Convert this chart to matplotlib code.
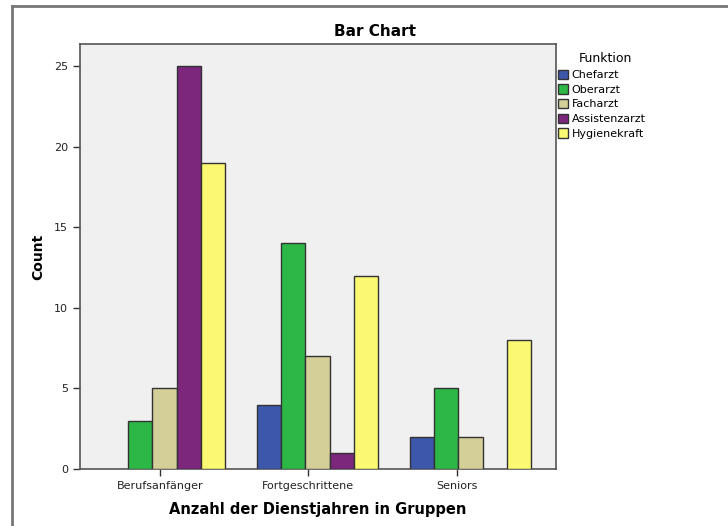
import numpy as np
import matplotlib
matplotlib.use("Agg")
import matplotlib.pyplot as plt
from matplotlib.patches import Patch
from matplotlib.lines import Line2D

# data
groups = ["Berufsanfänger", "Fortgeschrittene", "Seniors"]
funktion = ["Chefarzt", "Oberarzt", "Facharzt", "Assistenzarzt", "Hygienekraft"]
chefarzt = [0, 4, 2]
oberarzt = [3, 14, 5]
facharzt = [5, 7, 2]
assistenzarzt = [25, 1, 0]
hygienekraft = [19, 12, 8]
colors = ["#3d57ab", "#2db747", "#d4cf98", "#7c267c", "#fbf872"]

series = [chefarzt, oberarzt, facharzt, assistenzarzt, hygienekraft]

fig = plt.figure(figsize=(7.28, 5.26), dpi=100)
ax = fig.add_axes([80/728, 1-469/526, 476/728, 425/526])
ax.set_facecolor("#f0f0f0")

x = np.arange(len(groups))
w = 0.159
for i, (vals, col, name) in enumerate(zip(series, colors, funktion)):
    vals = np.array(vals, dtype=float)
    m = vals > 0
    ax.bar(x[m] + (i - 2) * w, vals[m], width=w, color=col,
           edgecolor="#333333", linewidth=1.0, zorder=3)

ax.set_xlim(-0.552, 2.559)
ax.set_ylim(0, 26.36)
ax.set_yticks([0, 5, 10, 15, 20, 25])
ax.set_xticks(x - 0.03 * np.arange(1, 4))
ax.set_xticklabels(groups)
ax.tick_params(axis="both", labelsize=8, colors="#333333", length=5,
               width=1, direction="out", labelcolor="#222222")
for s in ax.spines.values():
    s.set_color("#555555")
    s.set_linewidth(1.2)

ax.set_ylabel("Count", fontsize=10, fontweight="bold", labelpad=6)
ax.set_xlabel("Anzahl der Dienstjahren in Gruppen", fontsize=10.5,
              fontweight="bold", labelpad=8)
fig.text(375/728, 1-31/526, "Bar Chart", ha="center", va="center",
         fontsize=11, fontweight="bold")

handles = [Patch(facecolor=c, edgecolor="#333333", label=n)
           for c, n in zip(colors, funktion)]
leg = fig.legend(handles=handles, title="Funktion", loc="upper left",
                 bbox_to_anchor=(554/728, 1-48/526), frameon=False,
                 fontsize=8, title_fontsize=9, handlelength=0.9,
                 handleheight=0.9, handletextpad=0.3, labelspacing=0.38,
                 borderaxespad=0)
leg._legend_box.align = "left"
leg.get_title().set_position((20, 0))

# outer frame (left and top only)
fig.add_artist(Line2D([12/728, 12/728], [0, 1-6/526], transform=fig.transFigure,
                      color="#777777", linewidth=2))
fig.add_artist(Line2D([12/728, 1], [1-6/526, 1-6/526], transform=fig.transFigure,
                      color="#777777", linewidth=2))

fig.savefig("out.png", dpi=100)
